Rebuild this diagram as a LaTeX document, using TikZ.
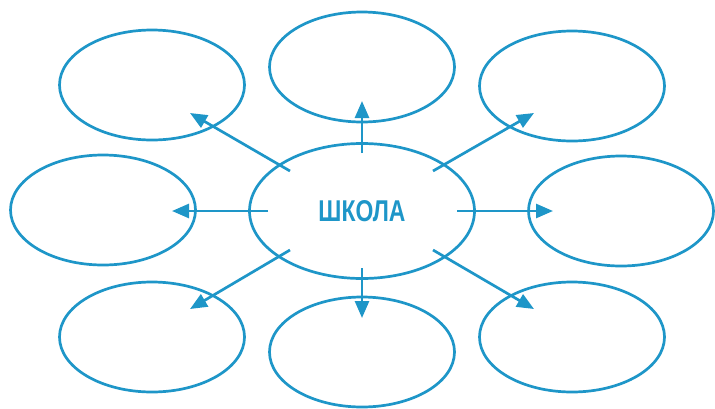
\documentclass[tikz,border=0pt]{standalone}
\usepackage{fontspec}
\setmainfont{Liberation Sans}
\usetikzlibrary{shapes.geometric,arrows.meta}
\definecolor{sblue}{RGB}{30,150,200}
\begin{document}
\begin{tikzpicture}[x=1pt,y=-1pt,
  bubble/.style={draw=sblue,line width=2.7pt,ellipse,inner sep=0pt,minimum width=185pt,minimum height=110pt},
  hub/.style={draw=sblue,line width=2.7pt,ellipse,inner sep=0pt,minimum width=225pt,minimum height=135pt},
  link/.style={draw=sblue,line width=2.7pt,-{Triangle[length=17pt,width=14pt]}}]
\useasboundingbox (0,0) rectangle (715,408);
\node[hub] (c) at (362,211) {\textcolor{sblue}{\resizebox{87pt}{21pt}{\bfseries ШКОЛА}}};
\node[bubble] (tl) at (152,85) {};
\node[bubble] (t) at (362,67) {};
\node[bubble] (tr) at (572,86) {};
\node[bubble] (l) at (103,210) {};
\node[bubble] (r) at (621,211) {};
\node[bubble] (bl) at (152,337) {};
\node[bubble] (b) at (362,352) {};
\node[bubble] (br) at (572,337) {};
\coordinate (stl) at (290,171); \coordinate (etl) at (190,113);
\coordinate (st) at (362,153); \coordinate (et) at (362,101);
\coordinate (str) at (433,171); \coordinate (etr) at (534,113);
\coordinate (sl) at (268,211); \coordinate (el) at (172,211);
\coordinate (sr) at (457,211); \coordinate (er) at (553,211);
\coordinate (sbl) at (290,250); \coordinate (ebl) at (190,309);
\coordinate (sb) at (362,268); \coordinate (eb) at (362,318);
\coordinate (sbr) at (433,250); \coordinate (ebr) at (534,309);
\draw[link] (stl) -- (etl);
\draw[link] (st) -- (et);
\draw[link] (str) -- (etr);
\draw[link] (sl) -- (el);
\draw[link] (sr) -- (er);
\draw[link] (sbl) -- (ebl);
\draw[link] (sb) -- (eb);
\draw[link] (sbr) -- (ebr);
\end{tikzpicture}
\end{document}
